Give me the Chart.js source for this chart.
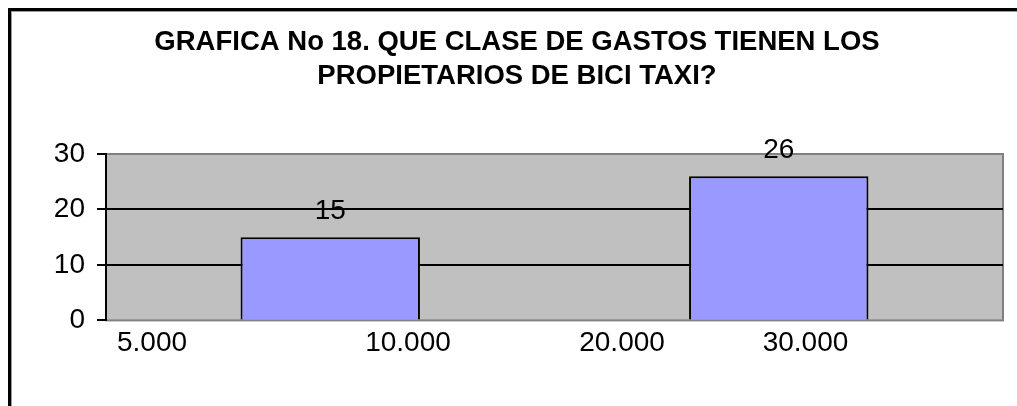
<!DOCTYPE html>
<html>
<head>
<meta charset="utf-8">
<script src="https://cdn.jsdelivr.net/npm/chart.js@4.4.1/dist/chart.umd.min.js"></script>
<style>
html,body{margin:0;padding:0;background:#fff;}
#wrap{position:relative;width:1017px;height:406px;}
</style>
</head>
<body>
<div id="wrap"><canvas id="c"></canvas></div>
<script>
// ---- data ----
const titleLines = ['GRAFICA No 18. QUE CLASE DE GASTOS TIENEN LOS', 'PROPIETARIOS DE BICI TAXI?'];
const categories = ['5.000 10.000', '20.000 30.000'];
const values = [15, 26];
const xTickLabels = ['5.000', '10.000', '20.000', '30.000'];
const yTicks = [0, 10, 20, 30];

// ---- layout (fractions of the plot width where the category texts sit) ----
const labelFrac = [0.0513, 0.3367, 0.5753, 0.7798];
const FONT = "'Liberation Sans', Arial, sans-serif";

const framePlugin = {
  id: 'frame',
  beforeDraw(chart) {
    const {ctx, chartArea: a} = chart;
    ctx.save();
    // outer chart frame (left and top edges visible)
    ctx.fillStyle = '#000';
    ctx.fillRect(8, 8, 3, chart.height);
    ctx.fillRect(8, 8, chart.width, 3);
    ctx.fillStyle = '#9a9a9a';
    ctx.fillRect(11, 11, 1, chart.height);
    ctx.fillRect(11, 11, chart.width, 1);
    // plot area
    ctx.fillStyle = '#C0C0C0';
    ctx.fillRect(a.left, a.top, a.right - a.left, a.bottom - a.top);
    ctx.strokeStyle = '#808080';
    ctx.lineWidth = 2;
    ctx.strokeRect(a.left, a.top, a.right - a.left, a.bottom - a.top);
    ctx.restore();
  }
};

const valueLabels = {
  id: 'valueLabels',
  afterDatasetsDraw(chart) {
    const {ctx} = chart;
    const meta = chart.getDatasetMeta(0);
    ctx.save();
    ctx.font = '28px ' + FONT;
    ctx.fillStyle = '#000';
    ctx.textAlign = 'center';
    ctx.textBaseline = 'middle';
    meta.data.forEach((bar, i) => {
      ctx.fillText(String(values[i]), bar.x, bar.y - 26);
    });
    ctx.restore();
  }
};

new Chart(document.getElementById('c'), {
  type: 'bar',
  data: {
    labels: categories,
    datasets: [{
      data: values,
      backgroundColor: '#9999FF',
      borderColor: '#000',
      borderWidth: 2,
      categoryPercentage: 1.0,
      barPercentage: 0.4
    }]
  },
  options: {
    responsive: true,
    maintainAspectRatio: false,
    animation: false,
    layout: { padding: { top: 25, right: 14, left: 31, bottom: 40 } },
    plugins: {
      legend: { display: false },
      tooltip: { enabled: false },
      title: {
        display: true,
        text: titleLines,
        color: '#000',
        font: { family: FONT, size: 27.5, weight: 'bold', lineHeight: 1.24 },
        padding: { top: 0, bottom: 60.8 }
      }
    },
    scales: {
      x: {
        type: 'category',
        position: 'bottom',
        weight: 0,
        grid: { display: false, drawTicks: false },
        border: { display: false },
        ticks: { display: false }
      },
      xl: {
        type: 'linear',
        position: 'bottom',
        weight: 1,
        offset: false,
        min: 0,
        max: 1,
        afterBuildTicks(scale) { scale.ticks = labelFrac.map(v => ({ value: v })); },
        grid: { display: false, drawTicks: false, offset: false },
        border: { display: false },
        ticks: {
          autoSkip: false,
          maxRotation: 0,
          padding: 6,
          color: '#000',
          font: { family: FONT, size: 28 },
          callback: (v, i) => xTickLabels[i]
        }
      },
      y: {
        min: yTicks[0],
        max: yTicks[yTicks.length - 1],
        afterBuildTicks(scale) { scale.ticks = yTicks.map(v => ({ value: v })); },
        afterFit(scale) { scale.width = 75; },
        grid: {
          color: c => (c.tick && (c.tick.value === yTicks[0] || c.tick.value === yTicks[yTicks.length - 1])) ? 'rgba(0,0,0,0)' : '#000',
          lineWidth: 2,
          tickLength: 9,
          tickColor: '#000',
          tickWidth: 2
        },
        border: { display: true, color: '#000', width: 2 },
        ticks: {
          padding: 12,
          color: '#000',
          font: { family: FONT, size: 28 }
        }
      }
    }
  },
  plugins: [framePlugin, valueLabels]
});
</script>
</body>
</html>
